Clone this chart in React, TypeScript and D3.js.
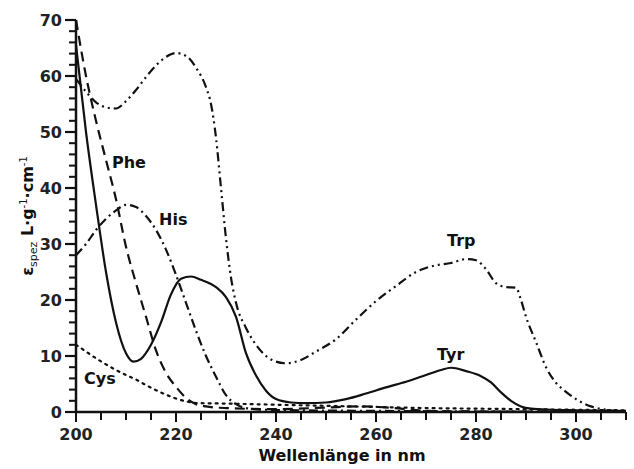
import {useEffect, useRef} from 'react';
import * as d3 from 'd3';

// wavelength (nm) / specific extinction values
const trpNm = [200, 202, 204, 206, 208, 210, 212, 214, 216, 218, 220, 222, 224, 226, 227, 228, 229, 230, 231, 232, 234, 236, 238, 240, 242, 245, 248, 252, 256, 260, 264, 268, 272, 275, 278, 280, 282, 284, 286, 288, 289, 290, 292, 294, 296, 298, 300, 303, 306, 310];
const trpVal = [59.5, 57.2, 55.3, 54.4, 54.2, 55.5, 57.5, 59.8, 61.9, 63.4, 64.1, 63.6, 61.5, 58, 55, 49, 40, 31, 24, 19.5, 15, 12, 10, 9, 8.7, 9.3, 10.8, 13, 16.5, 19.8, 22.5, 25, 26.2, 26.6, 27.3, 27.1, 25.5, 23, 22.3, 22.2, 20, 17, 12.5, 8, 5.2, 3.6, 2.3, 1.0, 0.4, 0.1];

const tyrNm = [200, 202, 204, 206, 208, 210, 211.5, 213, 215, 217, 219, 221, 223, 225, 228, 230, 232, 234, 236, 238, 240, 243, 246, 250, 254, 258, 262, 266, 270, 273, 275, 278, 281, 283, 285, 287, 289, 291, 295, 300, 310];
const tyrVal = [65.5, 50, 37, 25, 16, 10.5, 9, 9.5, 12, 16, 21, 23.8, 24.2, 23.6, 22.3, 20.5, 17, 10.5, 6.5, 3.8, 2.3, 1.7, 1.6, 1.7, 2.3, 3.3, 4.4, 5.4, 6.6, 7.5, 7.9, 7.3, 6.4, 5.3, 3.5, 2.0, 1.0, 0.6, 0.4, 0.3, 0.2];

const pheNm = [200, 202, 204, 206, 208, 210, 212, 214, 216, 218, 220, 222, 224, 226, 230, 240, 250, 257, 265, 270, 280, 310];
const pheVal = [70, 60, 52, 45, 38, 29.5, 23, 17, 11, 7, 4.5, 2.5, 1.4, 1.0, 0.7, 0.5, 0.8, 1.0, 0.6, 0.2, 0.05, 0.05];

const hisNm = [200, 202, 204, 206, 208, 210, 212, 214, 216, 218, 220, 222, 224, 226, 228, 230, 232, 234, 238, 245, 260, 280, 310];
const hisVal = [28, 30, 32.5, 34.5, 36, 37, 36.6, 35, 32.5, 29, 24.5, 19.5, 14.5, 10, 6.3, 3, 1.4, 0.7, 0.4, 0.3, 0.2, 0.1, 0.05];

const cysNm = [200, 202, 204, 206, 208, 210, 212, 214, 216, 218, 220, 222, 224, 230, 240, 250, 260, 270, 280, 290, 300, 310];
const cysVal = [12, 10.8, 9.6, 8.5, 7.5, 6.6, 5.8, 4.8, 3.9, 3.1, 2.4, 1.9, 1.6, 1.5, 1.3, 1.1, 0.9, 0.7, 0.6, 0.5, 0.4, 0.3];

const xTicks = [200, 220, 240, 260, 280, 300];
const yTicks = [0, 10, 20, 30, 40, 50, 60, 70];

export default function App() {
    const ref = useRef(null);

    useEffect(() => {
        const width = 634;
        const height = 469;
        const svg = d3.select(ref.current);
        svg.selectAll('*').remove();
        svg.attr('width', width).attr('height', height);

        const font = 'DejaVu Sans, Verdana, sans-serif';
        const x = d3.scaleLinear().domain([200, 310]).range([76, 626]);
        const y = d3.scaleLinear().domain([0, 70]).range([412, 20]);

        const series = [
            {name: 'Trp', nm: trpNm, val: trpVal, dash: '9,4,2,4,2,4', lx: 447, ly: 246},
            {name: 'Tyr', nm: tyrNm, val: tyrVal, dash: null, lx: 437, ly: 360},
            {name: 'Phe', nm: pheNm, val: pheVal, dash: '10,6', lx: 112, ly: 168},
            {name: 'His', nm: hisNm, val: hisVal, dash: '9,4,2,4', lx: 159, ly: 225},
            {name: 'Cys', nm: cysNm, val: cysVal, dash: '2,5', lx: 84, ly: 384},
        ];

        const line = d3
            .line()
            .x((d) => x(d[0]))
            .y((d) => y(d[1]))
            .curve(d3.curveMonotoneX);

        series.forEach((s) => {
            const pts = s.nm.map((n, i) => [n, s.val[i]]);
            svg
                .append('path')
                .attr('d', line(pts))
                .attr('fill', 'none')
                .attr('stroke', '#111')
                .attr('stroke-width', 2.2)
                .attr('stroke-dasharray', s.dash)
                .attr('stroke-linecap', s.dash === '2,5' ? 'round' : 'butt');
            svg
                .append('text')
                .attr('x', s.lx)
                .attr('y', s.ly)
                .attr('font-family', font)
                .attr('font-weight', 'bold')
                .attr('font-size', '16px')
                .attr('fill', '#111')
                .text(s.name);
        });

        // x axis
        const xAxis = svg.append('g').attr('transform', `translate(0, ${y(0)})`);
        xAxis
            .append('line')
            .attr('x1', x(200) - 1)
            .attr('x2', x(310))
            .attr('stroke', '#111')
            .attr('stroke-width', 2.5);
        xAxis
            .selectAll('.xminor')
            .data(d3.range(200, 311, 5))
            .enter()
            .append('line')
            .attr('x1', (d) => x(d))
            .attr('x2', (d) => x(d))
            .attr('y1', 0)
            .attr('y2', (d) => (d % 20 === 0 ? 10 : 8))
            .attr('stroke', '#111')
            .attr('stroke-width', 2);
        xAxis
            .selectAll('.xlab')
            .data(xTicks)
            .enter()
            .append('text')
            .attr('x', (d) => x(d))
            .attr('y', 28)
            .attr('text-anchor', 'middle')
            .attr('font-family', font)
            .attr('font-weight', 'bold')
            .attr('font-size', '16px')
            .attr('fill', '#222')
            .text((d) => d);

        // y axis
        const yAxis = svg.append('g').attr('transform', `translate(${x(200)}, 0)`);
        yAxis
            .append('line')
            .attr('y1', y(0) + 1)
            .attr('y2', y(70))
            .attr('stroke', '#111')
            .attr('stroke-width', 2.5);
        yAxis
            .selectAll('.yminor')
            .data(d3.range(0, 71, 2))
            .enter()
            .append('line')
            .attr('y1', (d) => y(d))
            .attr('y2', (d) => y(d))
            .attr('x1', 0)
            .attr('x2', -7)
            .attr('stroke', '#111')
            .attr('stroke-width', 2);
        yAxis
            .selectAll('.ymajor')
            .data(yTicks)
            .enter()
            .append('line')
            .attr('y1', (d) => y(d))
            .attr('y2', (d) => y(d))
            .attr('x1', 0)
            .attr('x2', -11)
            .attr('stroke', '#111')
            .attr('stroke-width', 2.2);
        yAxis
            .selectAll('.ylab')
            .data(yTicks)
            .enter()
            .append('text')
            .attr('x', -14)
            .attr('y', (d) => y(d))
            .attr('dy', '0.36em')
            .attr('text-anchor', 'end')
            .attr('font-family', font)
            .attr('font-weight', 'bold')
            .attr('font-size', '16px')
            .attr('fill', '#222')
            .text((d) => d);

        // axis titles
        svg
            .append('text')
            .attr('x', 342)
            .attr('y', 461)
            .attr('text-anchor', 'middle')
            .attr('font-family', font)
            .attr('font-weight', 'bold')
            .attr('font-size', '16px')
            .attr('fill', '#111')
            .text('Wellenlänge in nm');

        const yTitle = svg
            .append('text')
            .attr('transform', `translate(33, 216) rotate(-90)`)
            .attr('text-anchor', 'middle')
            .attr('font-family', font)
            .attr('font-weight', 'bold')
            .attr('font-size', '16px')
            .attr('fill', '#111');
        yTitle.append('tspan').text('ε');
        yTitle.append('tspan').attr('font-size', '11px').attr('font-weight', 'normal').attr('dy', 4).text('spez');
        yTitle.append('tspan').attr('dy', -4).text(' L·g');
        yTitle.append('tspan').attr('font-size', '10px').attr('font-weight', 'normal').attr('dy', -6).text('-1');
        yTitle.append('tspan').attr('dy', 6).text('·cm');
        yTitle.append('tspan').attr('font-size', '10px').attr('font-weight', 'normal').attr('dy', -6).text('-1');
    }, []);

    return <svg ref={ref} style={{position: 'absolute', left: 0, top: 0, background: '#fff'}}></svg>;
}
